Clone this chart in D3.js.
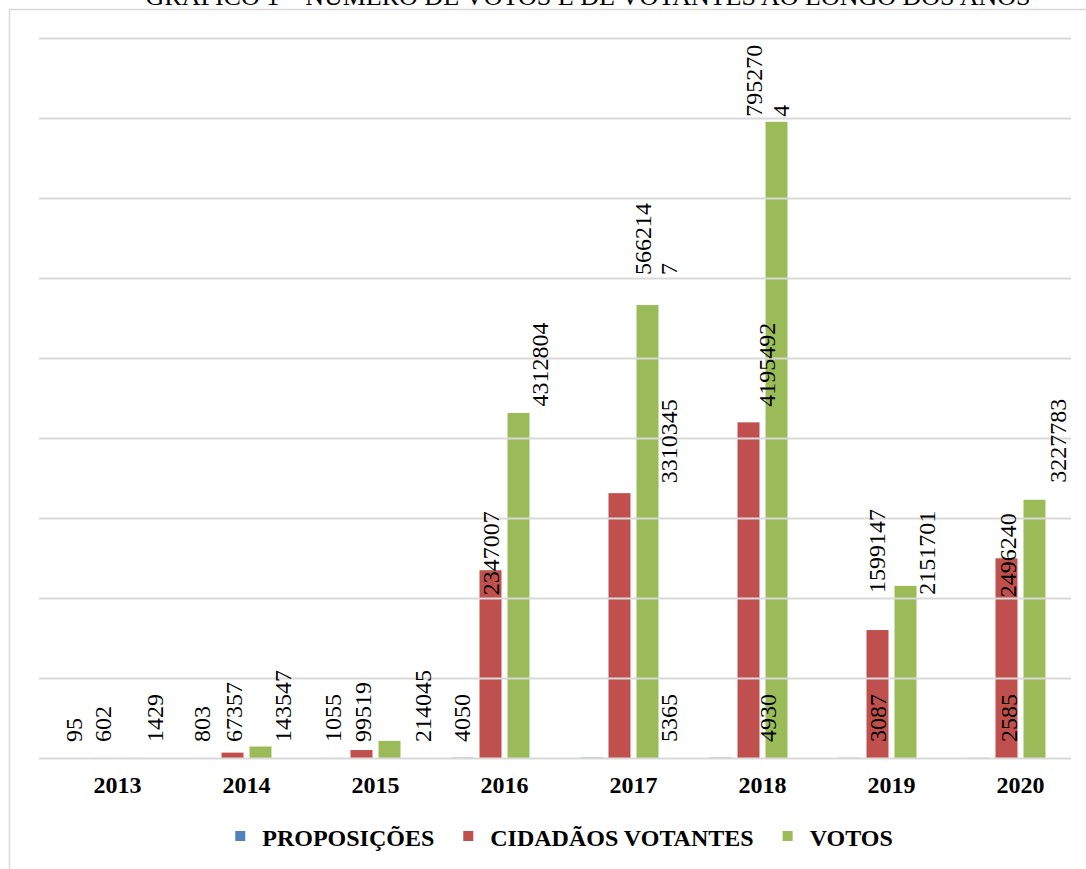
<!DOCTYPE html>
<html>
<head>
<meta charset="utf-8">
<script src="https://cdn.jsdelivr.net/npm/d3@7"></script>
<style>
  html, body { margin: 0; padding: 0; background: #fff; }
  svg { display: block; }
  text { font-family: "Liberation Serif", "Times New Roman", Tinos, serif; }
</style>
</head>
<body>
<svg id="chart" width="1086" height="869"></svg>
<script>
// ---- data ----
const title = "GRÁFICO 1 – NÚMERO DE VOTOS E DE VOTANTES AO LONGO DOS ANOS";
const years = ["2013", "2014", "2015", "2016", "2017", "2018", "2019", "2020"];
const seriesNames = ["PROPOSIÇÕES", "CIDADÃOS VOTANTES", "VOTOS"];
const proposicoes = [95, 803, 1055, 4050, 5365, 4930, 3087, 2585];
const cidadaosVotantes = [602, 67357, 99519, 2347007, 3310345, 4195492, 1599147, 2496240];
const votos = [1429, 143547, 214045, 4312804, 5662147, 7952704, 2151701, 3227783];
const yMax = 9000000;
const yTickStep = 1000000;

// ---- styles / label nudges (kept apart from the data) ----
const colors = ["#4f81bd", "#c0504d", "#9bbb59"];
// [anchor mode, dx px, dy px, wrap length]
const labelPlacement = [
  [["base",-1.5,0],["base",-3,0],["base",-0.5,0],["base",-1,0],["base",77.5,0],["base",47.5,0],["base",28.5,0],["base",30.5,0]],
  [["base",-0.5,0],["base",1.5,0],["base",1.5,0],["end",0.5,25],["end",49.5,-10],["end",18.5,-15.7],["end",-1,-37],["end",1.5,39]],
  [["base",23.5,0],["base",22.5,0],["base",33.5,0],["end",21.5,-6.5],["end",8.25,-30,6],["end",-9,-5,6],["end",21.5,9],["end",23.5,-17]]
];

const seriesValues = [proposicoes, cidadaosVotantes, votos];
const svg = d3.select("#chart");

// frame
svg.append("rect")
  .attr("x", 9.5).attr("y", 9.5)
  .attr("width", 1090).attr("height", 880)
  .attr("fill", "none").attr("stroke", "#d9d9d9").attr("stroke-width", 1.5);

// title (cut at top, as in the reference)
svg.append("text")
  .attr("x", 588).attr("y", 5)
  .attr("text-anchor", "middle")
  .attr("font-size", 26)
  .attr("fill", "#000")
  .text(title);

const plot = { left: 39, right: 1071, top: 38, bottom: 758 };
const x0 = d3.scaleBand().domain(years).range([plot.left, plot.right]).paddingInner(0).paddingOuter(0);
const groupW = 78;
const x1 = d3.scaleBand().domain(seriesNames)
  .range([(x0.bandwidth() - groupW) / 2, (x0.bandwidth() + groupW) / 2])
  .paddingInner(6 / 28).paddingOuter(0);
const y = d3.scaleLinear().domain([0, yMax]).range([plot.bottom, plot.top]);

// bars
const groups = svg.append("g").selectAll("g")
  .data(years).join("g")
  .attr("transform", d => `translate(${x0(d)},0)`);

groups.selectAll("rect")
  .data((d, i) => seriesNames.map((s, k) => ({ s, k, v: seriesValues[k][i] })))
  .join("rect")
  .attr("x", d => x1(d.s))
  .attr("width", x1.bandwidth())
  .attr("y", d => y(d.v))
  .attr("height", d => y(0) - y(d.v))
  .attr("fill", d => colors[d.k]);

// gridlines drawn over bars
const yAxis = d3.axisLeft(y)
  .tickValues(d3.range(0, yMax + 1, yTickStep))
  .tickSize(-(plot.right - plot.left))
  .tickFormat("");
const ga = svg.append("g").attr("transform", `translate(${plot.left},0)`).call(yAxis);
ga.select(".domain").remove();
ga.selectAll(".tick line").attr("stroke", "#d9d9d9").attr("stroke-width", 2);

// data labels (rotated)
const labelLayer = svg.append("g");
years.forEach((yr, i) => {
  seriesNames.forEach((s, k) => {
    const v = seriesValues[k][i];
    const [mode, dx, dy, wrap] = labelPlacement[k][i];
    const cx = x0(yr) + x1(s) + x1.bandwidth() / 2 + dx;
    const bottom = (mode === "base" ? y(0) - 16 : y(v)) + dy;
    const str = String(v);
    const lines = wrap ? [str.slice(0, wrap), str.slice(wrap)] : [str];
    const lh = 26.5;
    lines.forEach((ln, li) => {
      const lx = cx + (li - (lines.length - 1) / 2) * lh;
      labelLayer.append("text")
        .attr("transform", `translate(${lx},${bottom}) rotate(-90)`)
        .attr("dominant-baseline", "central")
        .attr("text-anchor", "start")
        .attr("font-size", 24)
        .attr("fill", "#000")
        .text(ln);
    });
  });
});

// category labels centred between the two visible series
svg.append("g").selectAll("text")
  .data(years).join("text")
  .attr("x", d => x0(d) + (x1(seriesNames[1]) + x1(seriesNames[2])) / 2 + x1.bandwidth() / 2)
  .attr("y", 793)
  .attr("text-anchor", "middle")
  .attr("font-size", 24)
  .attr("font-weight", "bold")
  .text(d => d);

// legend
const legend = svg.append("g");
const sq = 10, gapSqText = 17, gapItems = 29;
let cursor = 0;
seriesNames.forEach((s, k) => {
  const g = legend.append("g");
  g.append("rect").attr("x", cursor).attr("y", -15).attr("width", sq).attr("height", sq).attr("fill", colors[k]);
  const t = g.append("text").attr("x", cursor + sq + gapSqText).attr("y", 0)
    .attr("font-size", 24).attr("font-weight", "bold").text(s);
  const w = t.node().getComputedTextLength();
  cursor += sq + gapSqText + w + gapItems;
});
const totalW = cursor - gapItems;
legend.attr("transform", `translate(${564 - totalW / 2},846)`);
</script>
</body>
</html>
